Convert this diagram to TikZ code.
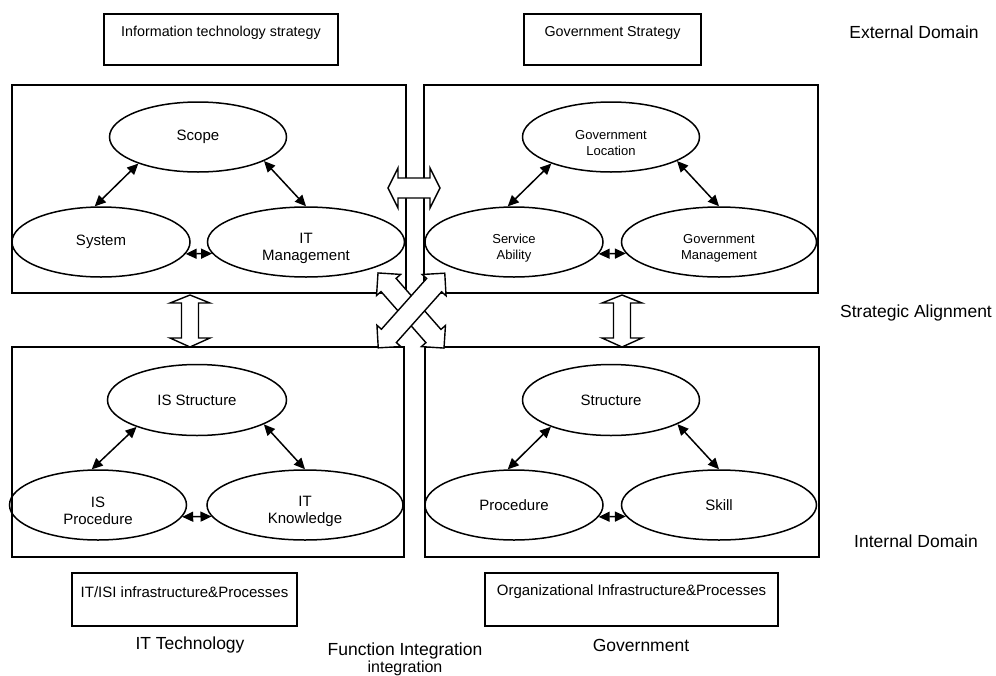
\documentclass[tikz,border=0pt]{standalone}
\usepackage{fontspec}
\setmainfont{Liberation Sans}
\usetikzlibrary{arrows.meta,shapes.geometric}
\begin{document}
\begin{tikzpicture}[x=1pt,y=-1pt,
  box/.style={draw,line width=1.5pt,inner sep=0pt},
  ell/.style={ellipse,draw,line width=1.5pt,inner sep=0pt,align=center,font=\fontsize{15}{17}\selectfont},
  gell/.style={ell,font=\fontsize{13}{16}\selectfont},
  etxt/.style={align=center,inner sep=0pt,font=\fontsize{15}{17}\selectfont},
  gtxt/.style={etxt,font=\fontsize{13}{16}\selectfont},
  biarr/.style={{Triangle[length=11pt,width=10pt]}-{Triangle[length=11pt,width=10pt]},line width=1.5pt},
  blk/.style={draw,fill=white,line width=1.4pt,line join=miter},
  lbl/.style={font=\fontsize{17.5}{19}\selectfont,align=center},
  small/.style={font=\fontsize{14.3}{16}\selectfont},
  smallb/.style={font=\fontsize{15}{17}\selectfont}]
\useasboundingbox (0,0) rectangle (996,675);
\fill[white] (0,0) rectangle (996,675);

% top strategy boxes
\node[box,minimum width=234,minimum height=51] (itsbox) at (221,39.5) {};
\node[small] (itstext) at (221,33) {Information technology strategy};
\node[box,minimum width=177,minimum height=51] (gsbox) at (612.5,39.5) {};
\node[small] (gstext) at (612.5,33) {Government Strategy};

% large panels
\node[box,minimum width=394,minimum height=208] (tl) at (209,189) {};
\node[box,minimum width=394,minimum height=208] (tr) at (621,189) {};
\node[box,minimum width=392,minimum height=210] (bl) at (208,452) {};
\node[box,minimum width=394,minimum height=210] (br) at (622,452) {};

% top-left panel
\node[ell,minimum width=177,minimum height=70] (scope) at (198,137) {Scope};
\node[ell,minimum width=178,minimum height=70] (system) at (101,242) {System};
\node[ell,minimum width=197,minimum height=70] (itm) at (306,242) {};
\node[etxt] (itmt) at ([yshift=-6pt]itm.center) {IT\\Management};
\draw[biarr] (scope.204) -- (system.100);
\draw[biarr] (scope.340) -- (itm.90);
\draw[biarr] (system.352) -- (itm.187);

% top-right panel
\node[gell,minimum width=177,minimum height=70] (govloc) at (611,137) {};
\node[gtxt] (govloct) at ([yshift=-6pt]govloc.center) {Government\\Location};
\node[gell,minimum width=178,minimum height=70] (service) at (514,242) {};
\node[gtxt] (servicet) at ([yshift=-6pt]service.center) {Service\\Ability};
\node[gell,minimum width=195,minimum height=70] (govman) at (719,242) {};
\node[gtxt] (govmant) at ([yshift=-6pt]govman.center) {Government\\Management};
\draw[biarr] (govloc.204) -- (service.100);
\draw[biarr] (govloc.340) -- (govman.90);
\draw[biarr] (service.352) -- (govman.187);

% bottom-left panel
\node[ell,minimum width=179,minimum height=71] (isstr) at (197,400) {IS Structure};
\node[ell,minimum width=177,minimum height=70] (isproc) at (98,505) {};
\node[etxt] (isproct) at ([yshift=-6pt]isproc.center) {IS\\Procedure};
\node[ell,minimum width=196,minimum height=70] (itk) at (305,505) {};
\node[etxt] (itkt) at ([yshift=-6pt]itk.center) {IT\\Knowledge};
\draw[biarr] (isstr.204) -- (isproc.100);
\draw[biarr] (isstr.340) -- (itk.90);
\draw[biarr] (isproc.352) -- (itk.187);

% bottom-right panel
\node[ell,minimum width=177,minimum height=71] (str) at (611,400) {Structure};
\node[ell,minimum width=178,minimum height=70] (proc) at (514,505) {Procedure};
\node[ell,minimum width=195,minimum height=70] (skill) at (719,505) {Skill};
\draw[biarr] (str.204) -- (proc.100);
\draw[biarr] (str.340) -- (skill.90);
\draw[biarr] (proc.352) -- (skill.187);

% block arrows
\draw[blk] (388,188) -- (398,168) -- (398,178) -- (430,178) -- (430,168) -- (440,188)
  -- (430,208) -- (430,198) -- (398,198) -- (398,208) -- cycle;
\draw[blk] (190,295) -- (210,303) -- (198.5,303) -- (198.5,338) -- (210,338) -- (190,347)
  -- (170,338) -- (181.5,338) -- (181.5,303) -- (170,303) -- cycle;
\draw[blk] (622,295) -- (642,303) -- (630.5,303) -- (630.5,338) -- (642,338) -- (622,347)
  -- (602,338) -- (613.5,338) -- (613.5,303) -- (602,303) -- cycle;
\begin{scope}[shift={(411,310.5)},rotate=-48.7]
\draw[blk] (-50,0) -- (-34,16) -- (-34,10) -- (34,10) -- (34,16) -- (50,0)
  -- (34,-16) -- (34,-10) -- (-34,-10) -- (-34,-16) -- cycle;
\end{scope}
\begin{scope}[shift={(411.5,310.5)},rotate=48.3]
\draw[blk] (-50,0) -- (-34,16) -- (-34,10) -- (34,10) -- (34,16) -- (50,0)
  -- (34,-16) -- (34,-10) -- (-34,-10) -- (-34,-16) -- cycle;
\end{scope}

% bottom boxes
\node[box,minimum width=225,minimum height=53] (infbox) at (184.5,599.5) {};
\node[smallb] (inftext) at (184.5,592) {IT/ISI infrastructure\&Processes};
\node[box,minimum width=293,minimum height=53] (orgbox) at (631.5,599.5) {};
\node[smallb] (orgtext) at (631.5,592) {Organizational Infrastructure\&Processes};

% labels
\node[lbl] (ext) at (914,32) {External Domain};
\node[lbl] (sa) at (916,313) {Strategic Alignment};
\node[lbl] (intd) at (916,541) {Internal Domain};
\node[lbl] (itt) at (190,645) {IT Technology};
\node[lbl] (gov) at (641,645) {Government};
\node[lbl] (fi) at (405,651) {Function Integration};
\node[lbl,font=\fontsize{16}{18}\selectfont] (fi2) at (405,668) {integration};
\end{tikzpicture}
\end{document}
